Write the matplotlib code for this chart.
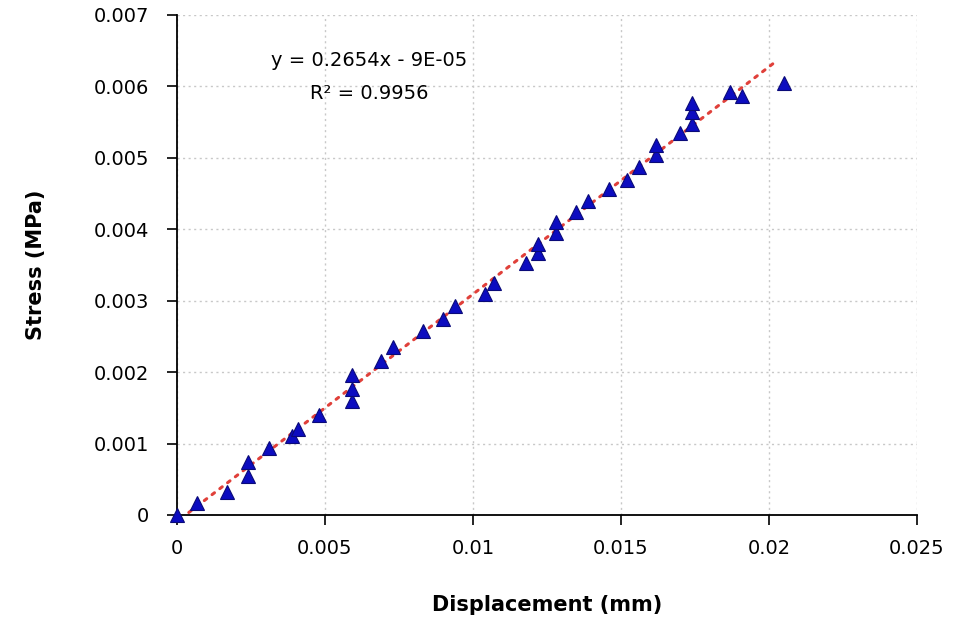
import numpy as np
import matplotlib
matplotlib.use('Agg')
import matplotlib.pyplot as plt

# displacement (mm) and stress (MPa) readings
displacement = [0.0, 0.00068, 0.0017, 0.0024, 0.0024, 0.0031, 0.0039, 0.0041, 0.0048,
                0.0059, 0.0059, 0.0059, 0.0069, 0.0073, 0.0083, 0.0090, 0.0094, 0.0104,
                0.0107, 0.0118, 0.0122, 0.0122, 0.0128, 0.0128, 0.0135, 0.0139, 0.0146,
                0.0152, 0.0156, 0.0162, 0.0162, 0.0170, 0.0174, 0.0174, 0.0174, 0.0187,
                0.0191, 0.0205]
stress = [0.0, 0.00017, 0.00032, 0.00055, 0.00074, 0.00094, 0.00110, 0.00120, 0.00140,
          0.00160, 0.00176, 0.00196, 0.00216, 0.00235, 0.00258, 0.00274, 0.00293, 0.00310,
          0.00325, 0.00353, 0.00367, 0.00380, 0.00395, 0.00410, 0.00424, 0.00440, 0.00456,
          0.00469, 0.00487, 0.00504, 0.00518, 0.00535, 0.00547, 0.00564, 0.00577, 0.00592,
          0.00587, 0.00605]

eq_text = 'y = 0.2654x - 9E-05'
r2_text = 'R² = 0.9956'

x = np.array(displacement)
y = np.array(stress)

fig = plt.figure(figsize=(9.55, 6.25), dpi=100)
ax = fig.add_axes([0.1853, 0.176, 0.7747, 0.8])

# linear trend line through the data
slope, intercept = np.polyfit(x, y, 1)
x_start = -intercept / slope if intercept < 0 else 0.0
xt = np.array([max(x_start, 0.0004), 0.0203])
ax.plot(xt, slope * xt + intercept, color='#e0403a', linestyle=(0, (1, 2.2)),
        linewidth=2.2, dash_capstyle='round', zorder=3)

ax.plot(x, y, linestyle='none', marker='^', markersize=10,
        markerfacecolor='#0c0cc0', markeredgecolor='#0a0a78', markeredgewidth=0.8,
        zorder=4, clip_on=False)

ax.set_xlim(0, 0.025)
ax.set_ylim(0, 0.007)
ax.set_xticks(np.arange(0, 0.0251, 0.005))
ax.set_yticks(np.arange(0, 0.00701, 0.001))
ax.set_xticklabels(['0', '0.005', '0.01', '0.015', '0.02', '0.025'])
ax.set_yticklabels(['0', '0.001', '0.002', '0.003', '0.004', '0.005', '0.006', '0.007'])

ax.grid(True, color='#c8c8c8', linestyle=(0, (1.5, 2.5)), linewidth=1)
ax.set_axisbelow(True)
for side in ['top', 'right']:
    ax.spines[side].set_visible(False)
for side in ['left', 'bottom']:
    ax.spines[side].set_linewidth(1.3)
ax.tick_params(axis='both', direction='out', length=7, width=1.2,
               labelsize=14, colors='black')
ax.tick_params(axis='y', pad=13)
ax.tick_params(axis='x', pad=10)

ax.set_xlabel('Displacement (mm)', fontsize=15, fontweight='bold', labelpad=27)
ax.set_ylabel('Stress (MPa)', fontsize=15, fontweight='bold', labelpad=34)

ax.text(0.0065, 0.00636, eq_text, fontsize=14, ha='center', va='center')
ax.text(0.0065, 0.00590, r2_text, fontsize=14, ha='center', va='center')

fig.savefig('out.png', dpi=100)
